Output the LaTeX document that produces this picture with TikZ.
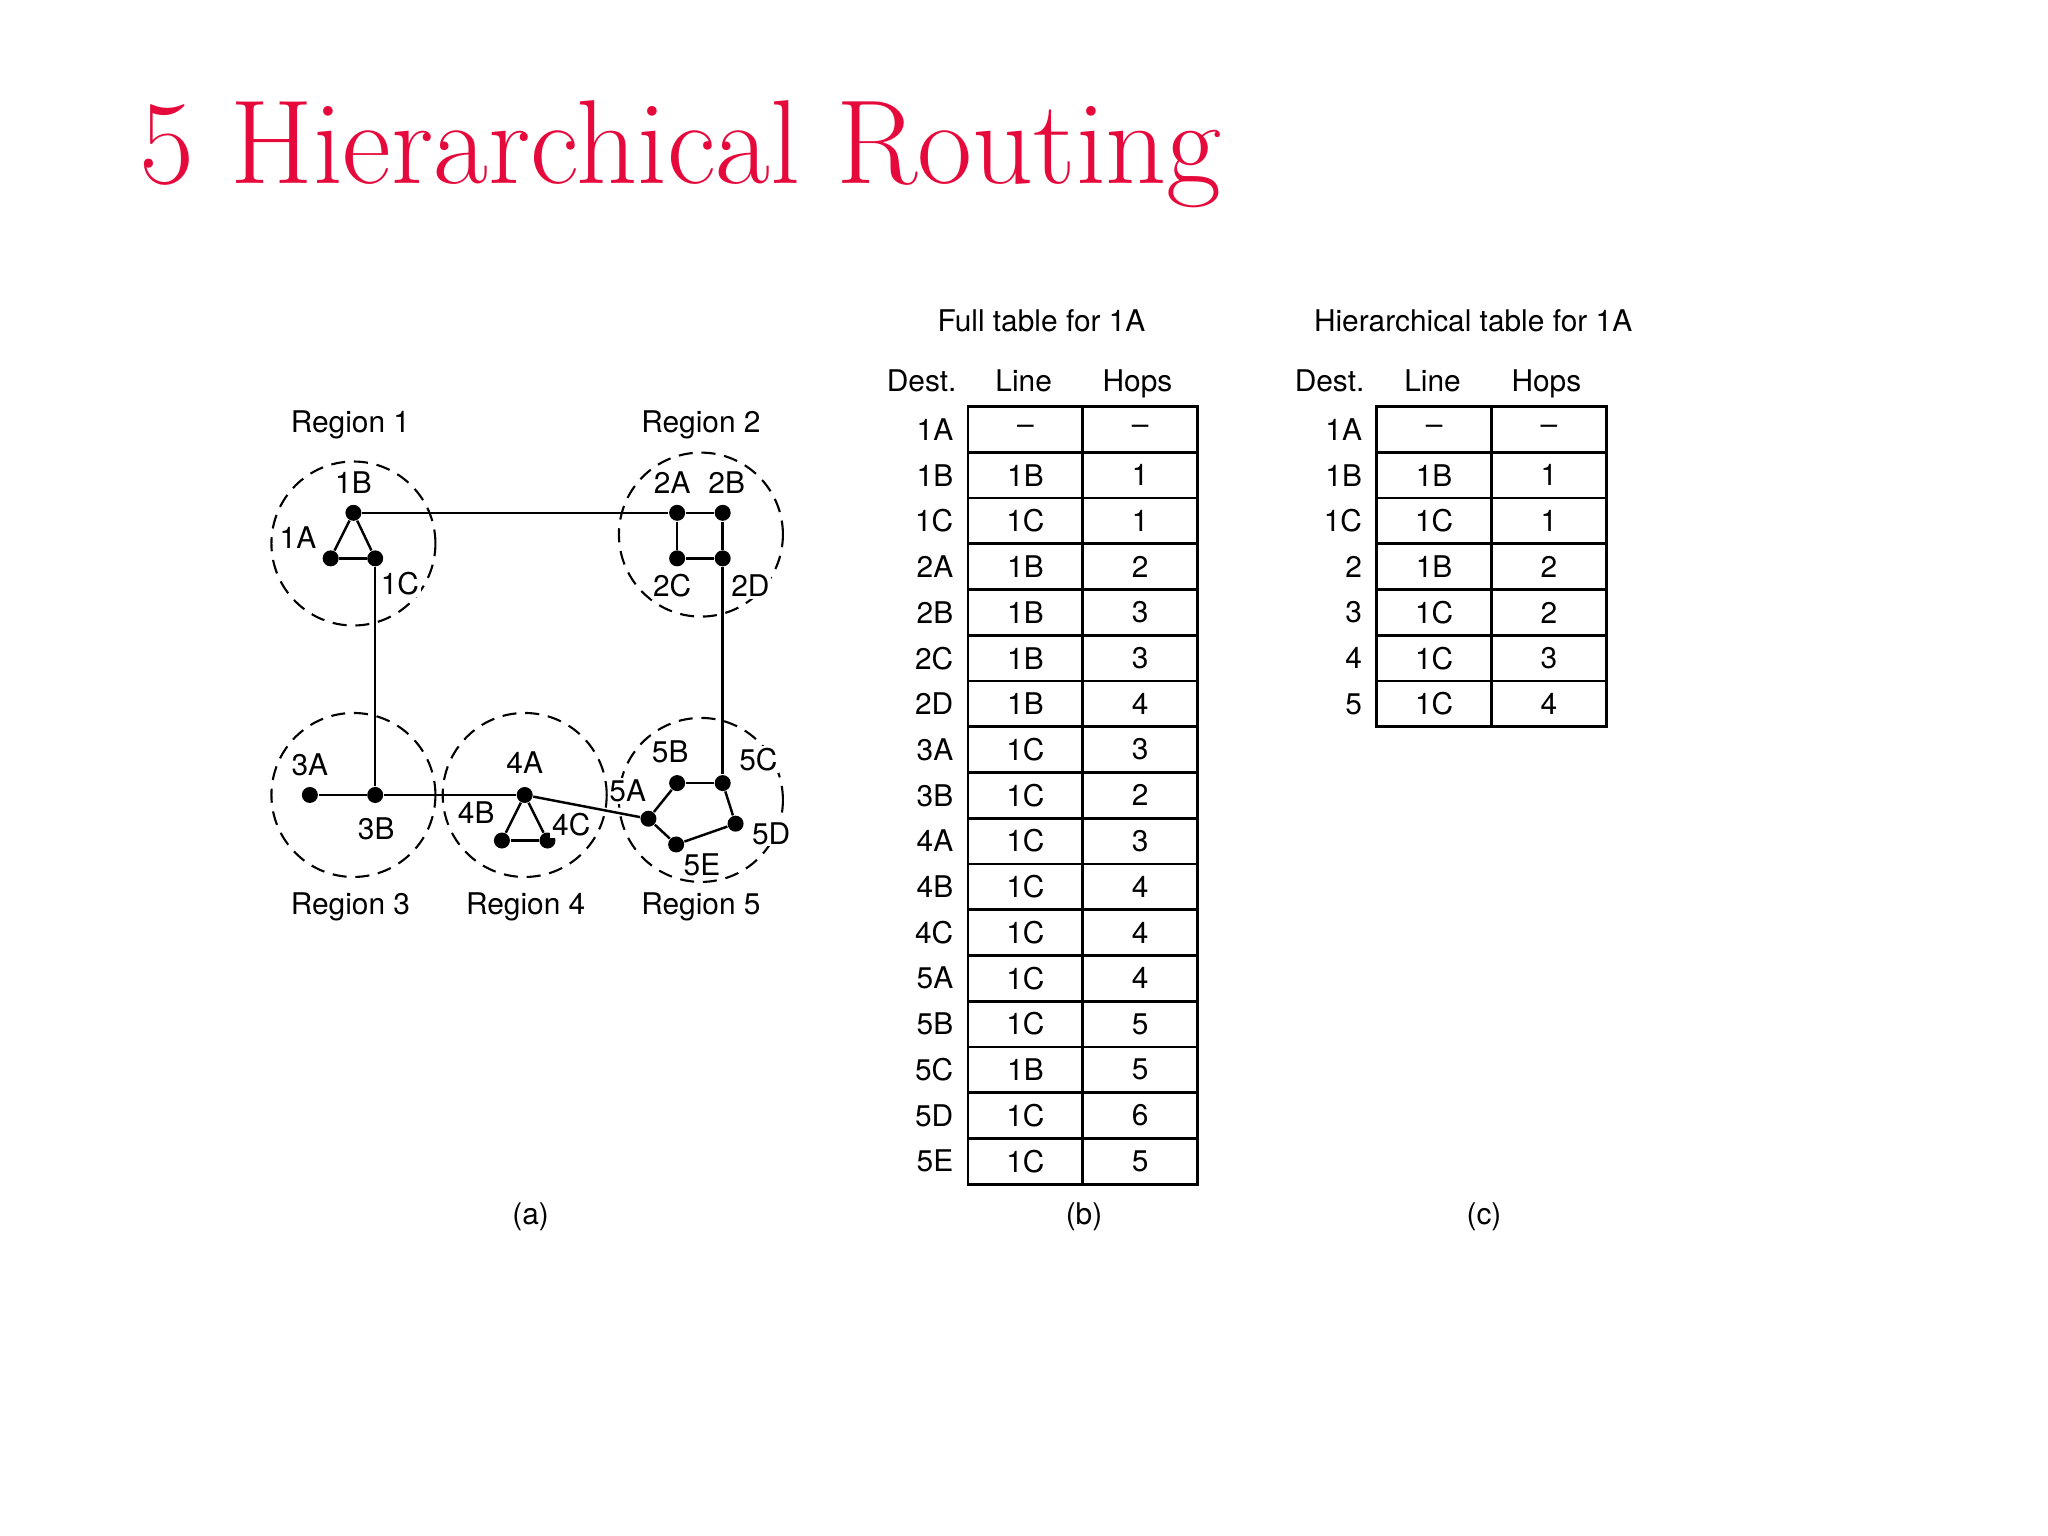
\documentclass[tikz,border=0pt]{standalone}
\usepackage{fontspec}
\setsansfont{TeX Gyre Heros}
\usetikzlibrary{positioning}
\definecolor{titlered}{RGB}{230, 10, 60}

\begin{document}
\begin{tikzpicture}[
    x=0.099mm, y=-0.099mm,
    router/.style={circle, fill=black, inner sep=0pt, minimum size=1.6mm},
    region/.style={circle, draw, dashed, line width=0.6pt, minimum size=16.4mm, inner sep=0pt, dash pattern=on 4pt off 2.5pt},
    link/.style={line width=0.7pt},
    lbl/.style={font=\sffamily\fontsize{8.5}{10}\selectfont, inner sep=1pt},
    rlbl/.style={lbl, fill=white, inner sep=0.5pt},
    head/.style={lbl, anchor=base},
    cell/.style={draw, line width=0.8pt, outer sep=0pt, minimum width=11.48mm, minimum height=4.574mm, inner sep=0pt, font=\sffamily\fontsize{8.5}{10}\selectfont},
    dest/.style={lbl, anchor=east}
]
\useasboundingbox (0,0) rectangle (2068.7,1551.5);

% Title
\node (title) [anchor=base west, text=titlered, font=\fontsize{34}{38}\selectfont, inner sep=0pt] at (140,185) {5 Hierarchical Routing};

% Regions
\node (reg1) [region] at (357,549) {};
\node (reg2) [region] at (708,540) {};
\node (reg3) [region] at (357,803) {};
\node (reg4) [region] at (530,803) {};
\node (reg5) [region] at (708,808) {};
\node [lbl] at (354,429) {Region 1};
\node [lbl] at (708,429) {Region 2};
\node [lbl] at (354,916) {Region 3};
\node [lbl] at (531,916) {Region 4};
\node [lbl] at (708,916) {Region 5};

% Routers
\foreach \name/\x/\y/\lx/\ly in {1A/334/564/301/543, 1B/357/518/357/487, 1C/379/564/404/590,
    2A/684/518/679/487, 2B/730/518/734/487, 2C/684/564/679/592, 2D/730/564/758/592,
    3A/313/803/313/773, 3B/379/803/380/837,
    4A/530/803/530/770, 4B/507/849/481/821, 4C/553/849/577/833,
    5A/655/827/634/799, 5B/684/791/677/759, 5C/730/791/766/767, 5D/743/832/779/842, 5E/683/853/709/874}{
  \node (r\name) [router] at (\x,\y) {};
  \node [rlbl] at (\lx,\ly) {\name};
}

% Lines
\foreach \a/\b in {1A/1B, 1B/1C, 1A/1C, 1B/2A, 2A/2B, 2A/2C, 2C/2D, 2B/2D, 1C/3B, 3A/3B, 3B/4A,
    4A/4B, 4A/4C, 4B/4C, 4A/5A, 5A/5B, 5B/5C, 5C/5D, 5D/5E, 5E/5A, 2D/5C}{
  \draw [link] (r\a) -- (r\b);
}

% Full table for 1A
\node (fulltitle) [lbl] at (1052,324) {Full table for 1A};
\node [head] at (931,395) {Dest.};
\node [head] at (1034,395) {Line};
\node [head] at (1149,395) {Hops};
\foreach \d/\l/\h [count=\i from 0] in {1A/--/--, 1B/1B/1, 1C/1C/1, 2A/1B/2, 2B/1B/3, 2C/1B/3, 2D/1B/4,
    3A/1C/3, 3B/1C/2, 4A/1C/3, 4B/1C/4, 4C/1C/4, 5A/1C/4, 5B/1C/5, 5C/1B/5, 5D/1C/6, 5E/1C/5}{
  \node (bline\i) [cell] at (1035.8,433.8+46.2*\i) {\l};
  \node (bhops\i) [cell, right=0pt of bline\i] {\h};
  \node [dest, left=3pt of bline\i] {\d};
}

% Hierarchical table for 1A
\node (hiertitle) [lbl] at (1488,324) {Hierarchical table for 1A};
\node [head] at (1343,395) {Dest.};
\node [head] at (1447,395) {Line};
\node [head] at (1562,395) {Hops};
\foreach \d/\l/\h [count=\i from 0] in {1A/--/--, 1B/1B/1, 1C/1C/1, 2/1B/2, 3/1C/2, 4/1C/3, 5/1C/4}{
  \node (cline\i) [cell] at (1448.6,433.8+46.2*\i) {\l};
  \node (chops\i) [cell, right=0pt of cline\i] {\h};
  \node [dest, left=3pt of cline\i] {\d};
}

% Captions
\node [lbl] at (536,1229) {(a)};
\node [lbl] at (1095,1229) {(b)};
\node [lbl] at (1499,1229) {(c)};
\end{tikzpicture}
\end{document}
